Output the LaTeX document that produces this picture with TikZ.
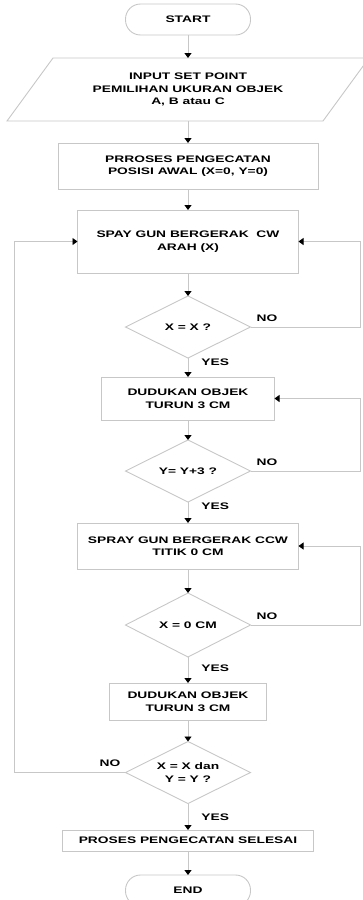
\documentclass[tikz,border=0pt]{standalone}
\usepackage{fontspec}
\setmainfont[FakeStretch=1.45]{Liberation Sans}
\usetikzlibrary{positioning,shapes.geometric,arrows.meta}

\begin{document}
\begin{tikzpicture}[
x=1pt, y=1pt,
base/.style={
	draw=black!22, line width=0.9pt, align=center, text=black,
	font=\bfseries\fontsize{9.5}{12.5}\selectfont, inner sep=2pt, outer sep=0pt
},
term/.style={base, rectangle, rounded corners=15pt, minimum width=125pt, minimum height=31pt},
io/.style={base, draw=none, rectangle, minimum width=316pt, minimum height=63pt},
proc/.style={base, rectangle},
cond/.style={base, diamond, aspect=2, minimum width=125pt, minimum height=62pt, inner sep=0pt},
lab/.style={font=\bfseries\fontsize{9.5}{11}\selectfont, inner sep=1pt},
frame/.style={draw=black!22, line width=0.9pt},
flow/.style={frame, -{Triangle[length=5pt,width=7pt,color=black]}}
]
\useasboundingbox (0,0) rectangle (362,-900);
\coordinate (rr) at (360,0);
\coordinate (ll) at (14,0);

\node[term] (start) at (188,-19.5) {START};
\node[io, below=23pt of start] (inp) {INPUT SET POINT\\PEMILIHAN UKURAN OBJEK\\A, B atau C};
\draw[frame] ([xshift=23pt]inp.north west) -- ([xshift=23pt]inp.north east)
	-- ([xshift=-23pt]inp.south east) -- ([xshift=-23pt]inp.south west) -- cycle;
\node[proc, below=22pt of inp, minimum width=260pt, minimum height=46pt] (init) {PRROSES PENGECATAN\\POSISI AWAL (X=0, Y=0)};
\node[proc, below=21pt of init, minimum width=221pt, minimum height=63pt] (cw) {SPAY GUN BERGERAK\ \ CW\\ARAH (X)};
\node[cond, below=23pt of cw] (cx) {X = X ?};
\node[proc, below=19pt of cx, minimum width=173pt, minimum height=43pt] (turun1) {DUDUKAN OBJEK\\TURUN 3 CM};
\node[cond, below=20pt of turun1] (cy) {Y= Y+3 ?};
\node[proc, below=21pt of cy, minimum width=221pt, minimum height=46pt] (ccw) {SPRAY GUN BERGERAK CCW\\TITIK 0 CM};
\node[cond, below=24pt of ccw, minimum height=64pt] (cnol) {X = 0 CM};
\node[proc, below=26pt of cnol, minimum width=157pt, minimum height=37pt] (turun2) {DUDUKAN OBJEK\\TURUN 3 CM};
\node[cond, below=21.5pt of turun2] (cxy) {X = X dan\\Y = Y ?};
\node[proc, below=26.5pt of cxy, minimum width=251pt, minimum height=21pt] (selesai) {PROSES PENGECATAN SELESAI};
\node[term, below=24pt of selesai] (end) {END};

\foreach \a/\b in {start/inp, inp/init, init/cw, cw/cx, turun1/cy, ccw/cnol, turun2/cxy, selesai/end}
	\draw[flow] (\a) -- (\b);

\draw[flow] (cx) -- node[lab, right=12pt, pos=0.2] {YES} (turun1);
\draw[flow] (cy) -- node[lab, right=12pt, pos=0.2] {YES} (ccw);
\draw[flow] (cnol) -- node[lab, right=12pt, pos=0.42] {YES} (turun2);
\draw[flow] (cxy) -- node[lab, right=12pt, pos=0.5] {YES} (selesai);

\draw[flow] (cx.east) -- node[lab, above=4pt, pos=0.15] {NO} (cx.east -| rr) |- (cw.east);
\draw[flow] (cy.east) -- node[lab, above=4pt, pos=0.15] {NO} (cy.east -| rr) |- (turun1.east);
\draw[flow] (cnol.east) -- node[lab, above=4pt, pos=0.15] {NO} (cnol.east -| rr) |- (ccw.east);
\draw[flow] (cxy.west) -- node[lab, above=4pt, pos=0.14] {NO} (cxy.west -| ll) |- (cw.west);
\end{tikzpicture}
\end{document}
